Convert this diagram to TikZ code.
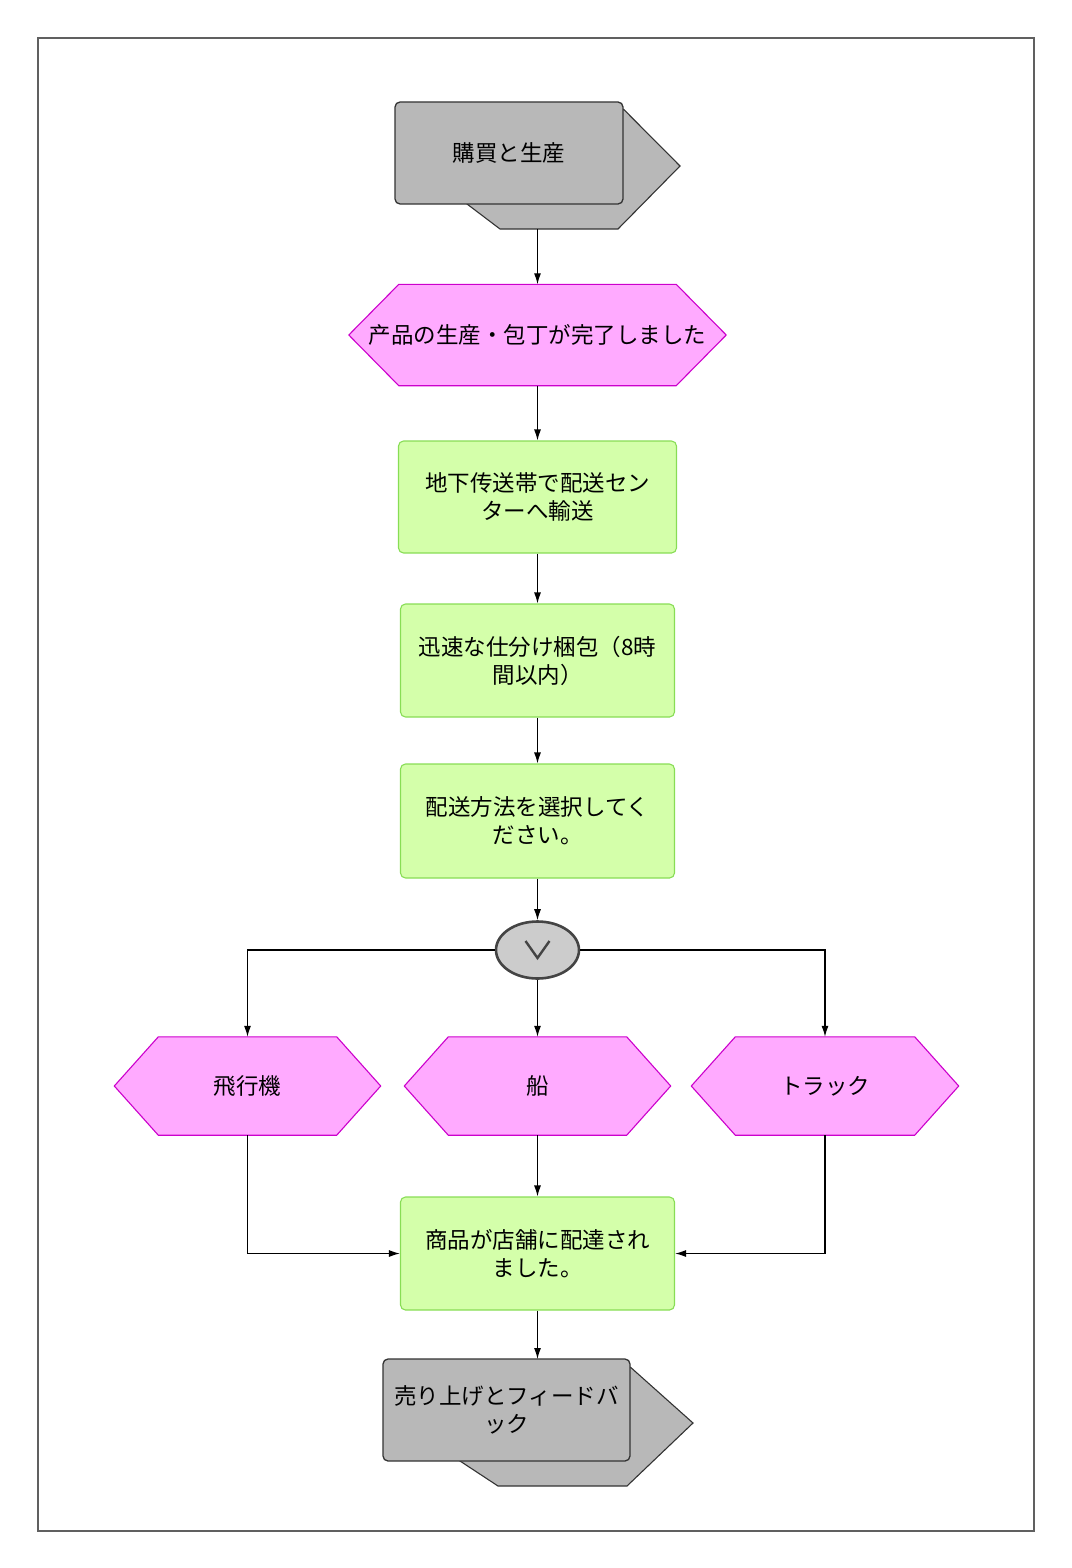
\documentclass[tikz,border=0pt]{standalone}
\usepackage{fontspec}
\setmainfont{Noto Sans CJK JP}
\usetikzlibrary{arrows.meta,shapes.geometric,backgrounds}
\definecolor{hexfill}{HTML}{FFAAFF}
\definecolor{hexline}{HTML}{CC00CC}
\definecolor{boxfill}{HTML}{D4FFAA}
\definecolor{boxline}{HTML}{88DD55}
\definecolor{evfill}{HTML}{B8B8B8}
\definecolor{evline}{HTML}{333333}
\definecolor{frameline}{HTML}{606060}
\definecolor{xorfill}{HTML}{CCCCCC}
\definecolor{xorline}{HTML}{444444}
\tikzset{
  txt/.style={font=\fontsize{22.5}{28}\selectfont, align=center, text=black, inner sep=0pt},
  hexnode/.style={txt},
  hexbg/.style={fill=hexfill, draw=hexline, line width=1.1pt},
  boxnode/.style={txt, rectangle, rounded corners=5pt, fill=boxfill, draw=boxline, line width=1.1pt},
  evnode/.style={txt, rectangle, rounded corners=5pt, fill=evfill, draw=evline, line width=1.3pt},
  evbg/.style={fill=evfill, draw=evline, line width=1.1pt},
  xornode/.style={ellipse, fill=xorfill, draw=xorline, line width=2.6pt, inner sep=0pt},
  arr/.style={draw=black, line width=1.2pt, -{Latex[length=11pt,width=7pt]}},
}
\begin{document}
\begin{tikzpicture}[x=1pt,y=-1pt]
\useasboundingbox (0,0) rectangle (1071,1568);
\draw[frameline, line width=2.8pt] (38,38) rectangle (1034,1531);

% top event
\node[evnode, minimum width=228, minimum height=102] (ev1) at (509,153) {購買と生産};
\coordinate (ev1out) at (537.5,229);
% hexagon 1
\node[hexnode, minimum width=377, minimum height=101] (h1) at (537.5,335) {产品の生産・包丁が完了しました};
% green boxes
\node[boxnode, minimum width=278, minimum height=112] (b1) at (537.5,497) {地下传送帯で配送セン\\ターへ輸送};
\node[boxnode, minimum width=274, minimum height=113] (b2) at (537.5,660.5) {迅速な仕分け梱包（8時\\間以内）};
\node[boxnode, minimum width=274, minimum height=114] (b3) at (537.5,821) {配送方法を選択してく\\ださい。};
% xor
\node[xornode, minimum width=83, minimum height=57] (x) at (537.5,950) {};
\draw[xorline, line width=2.4pt] ([shift={(-12,-9)}]x.center) -- ([shift={(0,8)}]x.center) -- ([shift={(12,-9)}]x.center);
% hexagon row
\node[hexnode, minimum width=266, minimum height=98] (hA) at (247.5,1086) {飛行機};
\node[hexnode, minimum width=266, minimum height=98] (hB) at (537.5,1086) {船};
\node[hexnode, minimum width=267, minimum height=98] (hC) at (825,1086) {トラック};
% final box
\node[boxnode, minimum width=274, minimum height=113] (b4) at (537.5,1253.5) {商品が店舗に配達され\\ました。};
% bottom event
\node[evnode, minimum width=247, minimum height=102] (ev2) at (506.5,1410) {売り上げとフィードバ\\ック};
\coordinate (ev2in) at (537.5,1359);

\begin{scope}[on background layer]
  \filldraw[evbg] ([yshift=-8pt]ev1.north east) -- (680,166) -- (618,229) -- (500,229) -- (467,204) -- (560,160) -- cycle;
  \filldraw[evbg] ([yshift=-9pt]ev2.north east) -- (693,1423) -- (627,1486) -- (498,1486) -- (460,1461) -- (560,1415) -- cycle;
  \foreach \n/\d in {h1/50,hA/44,hB/44,hC/44}{
    \filldraw[hexbg] (\n.west) -- ([xshift=\d]\n.north west) -- ([xshift=-\d]\n.north east) -- (\n.east) -- ([xshift=-\d]\n.south east) -- ([xshift=\d]\n.south west) -- cycle;
  }
\end{scope}

\draw[arr] (ev1out) -- (h1.north);
\draw[arr] (h1.south) -- (b1.north);
\draw[arr] (b1.south) -- (b2.north);
\draw[arr] (b2.south) -- (b3.north);
\draw[arr] (b3.south) -- (x.north);
\draw[arr] (x.west) -| (hA.north);
\draw[arr] (x.south) -- (hB.north);
\draw[arr] (x.east) -| (hC.north);
\draw[arr] (hA.south) |- (b4.west);
\draw[arr] (hB.south) -- (b4.north);
\draw[arr] (hC.south) |- (b4.east);
\draw[arr] (b4.south) -- (ev2in);
\end{tikzpicture}
\end{document}
